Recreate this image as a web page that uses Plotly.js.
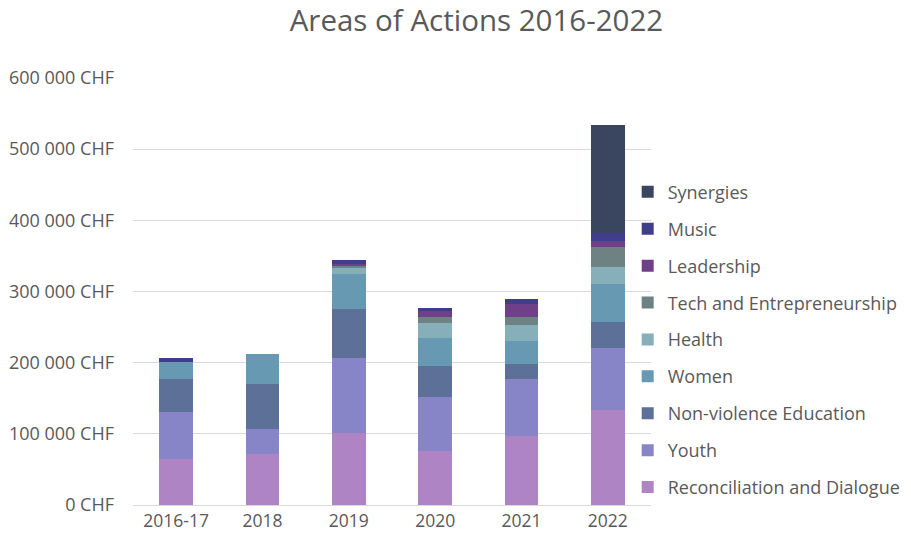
<!DOCTYPE html>
<html><head><meta charset="utf-8">
<script src="https://cdn.plot.ly/plotly-3.0.1.min.js"></script>
<style>html,body{margin:0;padding:0;background:#fff}</style>
</head><body><div id="chart" style="width:911px;height:547px"></div>
<script>
const years = ["2016-17","2018","2019","2020","2021","2022"];
const reconciliation = [65000, 72000, 101000, 76000, 97000, 133500];
const youth = [65000, 35000, 105000, 76000, 80000, 87500];
const nonviolence = [47000, 63000, 70000, 44000, 21000, 36000];
const women = [23500, 42000, 49000, 38500, 32000, 53500];
const health = [0, 0, 8000, 21000, 23000, 24500];
const tech = [0, 0, 3000, 9000, 11000, 27000];
const leadership = [0, 0, 3000, 8000, 19000, 9500];
const music = [5500, 0, 5000, 4000, 6000, 10500];
const synergies = [0, 0, 0, 0, 0, 151500];
const seriesNames = ["Reconciliation and Dialogue","Youth","Non-violence Education","Women","Health","Tech and Entrepreneurship","Leadership","Music","Synergies"];
const seriesValues = [reconciliation, youth, nonviolence, women, health, tech, leadership, music, synergies];
const colors = ["#AE84C4","#8784C7","#5D7098","#6899B2","#86AFBA","#6E8283","#6F3F88","#403D8C","#3A465F"];
const tickVals = [0,100000,200000,300000,400000,500000,600000];
const tickText = ["0 CHF","100 000 CHF","200 000 CHF","300 000 CHF","400 000 CHF","500 000 CHF","600 000 CHF"];

const traces = seriesNames.map((n,i)=>({
  type:"bar", name:n, x:years, y:seriesValues[i], legendgroup:"g"+i,
  legendrank: 1000 - i,
  marker:{color:colors[i], line:{width:0}}, hoverinfo:"name+y"
}));
const font = "Open Sans, Liberation Sans, sans-serif";
Plotly.newPlot("chart", traces, {
  width:911, height:547, barmode:"stack", bargap:0.61,
  paper_bgcolor:"#fff", plot_bgcolor:"#fff",
  margin:{l:133, r:260, t:78, b:42, autoexpand:false},
  title:{text:"Areas of Actions 2016-2022", x:0.523, xanchor:"center", y:0.962, yanchor:"middle", font:{family:font, size:29.5, color:"#595959"}},
  font:{family:font, color:"#595959"},
  xaxis:{type:"category", tickfont:{size:17.5, color:"#595959"}, showline:true, linecolor:"#D9D9D9", ticks:"", fixedrange:true},
  yaxis:{range:[0,600000], tickvals:tickVals, ticktext:tickText, tickfont:{size:18, color:"#595959"}, gridcolor:"#D9D9D9", zeroline:false, ticks:"", ticklen:0, ticklabelstandoff:18, fixedrange:true},
  legend:{x:0.955, xanchor:"left", y:0.776, yanchor:"top", traceorder:"grouped", tracegroupgap:10.5, font:{size:18, color:"#595959"}, itemwidth:30, bgcolor:"rgba(0,0,0,0)"},
  showlegend:true
}, {displayModeBar:false, staticPlot:true});
</script></body></html>
